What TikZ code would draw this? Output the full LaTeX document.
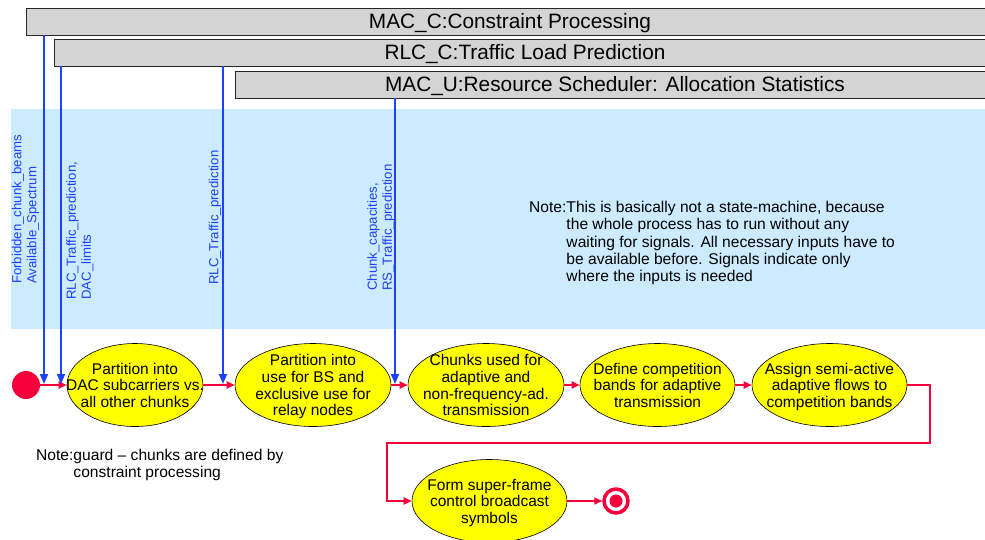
\documentclass[tikz,border=0pt]{standalone}
\usepackage{fontspec}
\setmainfont{Liberation Sans}
\usetikzlibrary{shapes.geometric,arrows.meta}
\definecolor{lblue}{HTML}{CCEBFF}
\definecolor{sigblue}{HTML}{1E40FF}
\definecolor{flowred}{HTML}{F5003A}
\definecolor{bargray}{HTML}{D4D4D4}
\definecolor{stateyel}{HTML}{FFFF00}
\newcommand{\etext}[1]{\raisebox{-6pt}[0pt][0pt]{\makebox[0pt]{\begin{tabular}{@{}c@{}}#1\end{tabular}}}}
\newcommand{\btext}[1]{\raisebox{-7.4pt}[0pt][0pt]{\makebox[0pt]{#1}}}
\begin{document}
\begin{tikzpicture}[x=1pt,y=-1pt,
  bar/.style={draw=black!85, fill=bargray, line width=0.8pt, minimum height=27pt, inner sep=0pt, font=\fontsize{20.8}{24}\selectfont},
  state/.style={ellipse, draw=black, line width=0.6pt, fill=stateyel, minimum height=83pt, inner sep=0pt, font=\fontsize{15.5}{16.7}\selectfont},
  flow/.style={draw=flowred, line width=1.8pt, -{Triangle[length=8pt,width=7pt]}},
  sig/.style={draw=sigblue, line width=1.8pt, -{Triangle[length=10pt,width=8pt]}},
  vlabel/.style={rotate=90, anchor=west, inner sep=0pt, text=sigblue, align=left, font=\fontsize{13.2}{15}\selectfont},
  note/.style={anchor=base west, inner sep=0pt, font=\fontsize{15.6}{17.3}\selectfont}
]
\useasboundingbox (0,0) rectangle (985,539);
\clip (0,0) rectangle (985,539);

% background region
\fill[lblue] (11,109) rectangle (995,329);

% bars
\node[bar, minimum width=968pt] (bar1) at (510,21.5) {\btext{MAC\_C:Constraint Processing}};
\node[bar, minimum width=942pt] (bar2) at (525,52.5) {\btext{RLC\_C:Traffic Load Prediction}};
\node[bar, minimum width=760pt] (bar3) at (615,84.5) {\btext{MAC\_U:Resource Scheduler: Allocation Statistics}};

% signal labels
\node[vlabel] (l1) at (25.5,284) {Forbidden\_chunk\_beams\\Available\_Spectrum};
\node[vlabel] (l2) at (80,300) {RLC\_Traffic\_prediction,\\DAC\_limits};
\node[vlabel] (l3) at (215,285) {RLC\_Traffic\_prediction};
\node[vlabel] (l4) at (381,291) {Chunk\_capacities,\\RS\_Traffic\_prediction};

% notes
\node[note] (note1) at (529,212.5) {Note:\begin{tabular}[t]{@{}l@{}}This is basically not a state-machine, because\\the whole process has to run without any\\waiting for signals. All necessary inputs have to\\be available before. Signals indicate only\\where the inputs is needed\end{tabular}};
\node[note] (note2) at (36,460.5) {Note:\begin{tabular}[t]{@{}l@{}}guard \textendash{} chunks are defined by\\constraint processing\end{tabular}};

% states
\node[circle, fill=flowred, minimum size=28pt, inner sep=0pt] (start) at (26,385) {};
\node[state, minimum width=136pt] (e1) at (135,385) {\etext{Partition into\\DAC subcarriers vs.\\all other chunks}};
\node[state, minimum width=156pt] (e2) at (313,385) {\etext{Partition into\\use for BS and\\exclusive use for\\relay nodes}};
\node[state, minimum width=156pt] (e3) at (486,385) {\etext{Chunks used for\\adaptive and\\non-frequency-ad.\\transmission}};
\node[state, minimum width=155pt] (e4) at (657.5,385) {\etext{Define competition\\bands for adaptive\\transmission}};
\node[state, minimum width=155pt] (e5) at (829.5,385) {\etext{Assign semi-active\\adaptive flows to\\competition bands}};
\node[state, minimum width=155pt] (e6) at (489.5,501) {\etext{Form super-frame\\control broadcast\\symbols}};
\node[circle, draw=flowred, line width=3.5pt, fill=white, minimum size=24pt, inner sep=0pt] (end) at (616,501) {};
\node[circle, fill=flowred, minimum size=13pt, inner sep=0pt] (enddot) at (end.center) {};

% flow connectors
\draw[flow] (start) -- (e1);
\draw[flow] (e1) -- (e2);
\draw[flow] (e2) -- (e3);
\draw[flow] (e3) -- (e4);
\draw[flow] (e4) -- (e5);
\coordinate (r1) at (930,443);
\coordinate (r2) at (387,443);
\draw[flow] (e5) -| (r1) -- (r2) |- (e6);
\draw[flow] (e6) -- (end);

% signals
\coordinate (s1) at (44,384);
\coordinate (s2) at (61,384);
\coordinate (s3) at (223,384);
\coordinate (s4) at (395,384);
\draw[sig] (bar1.south -| s1) -- (s1);
\draw[sig] (bar2.south -| s2) -- (s2);
\draw[sig] (bar2.south -| s3) -- (s3);
\draw[sig] (bar3.south -| s4) -- (s4);
\end{tikzpicture}
\end{document}
